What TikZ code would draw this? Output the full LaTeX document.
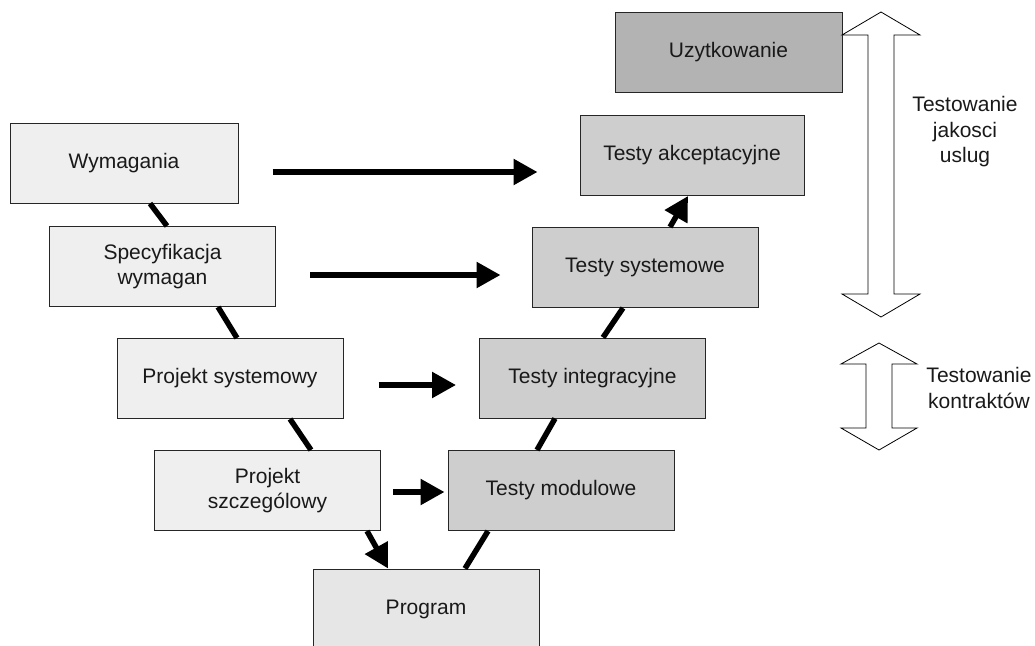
\documentclass[tikz,border=0pt]{standalone}
\usepackage{fontspec}
\setmainfont{Liberation Sans}
\usetikzlibrary{arrows.meta,calc}
\definecolor{leftfill}{HTML}{EFEFEF}
\definecolor{progfill}{HTML}{E6E6E6}
\definecolor{testfill}{HTML}{CECECE}
\definecolor{usefill}{HTML}{B3B3B3}
\tikzset{
  box/.style={draw=black!85, line width=1pt, minimum width=226pt, minimum height=80pt,
    inner sep=0pt, align=center, text=black!90},
  leftbox/.style={box, fill=leftfill},
  progbox/.style={box, fill=progfill},
  testbox/.style={box, fill=testfill},
  usebox/.style={box, fill=usefill},
  vline/.style={line width=5.5pt, black},
  varrow/.style={line width=5.5pt, black, -{Triangle[length=24pt,width=25pt]}},
  harrow/.style={line width=5.5pt, black, -{Triangle[length=24pt,width=25pt]}},
  bigarrow/.style={draw=black, line width=0.8pt, fill=white, line join=miter},
  lab/.style={align=center, text=black!90, inner sep=0pt}
}
\begin{document}
\begin{tikzpicture}[x=1pt,y=-1pt, font=\fontsize{21}{25.5}\selectfont]
\useasboundingbox (0,0) rectangle (1035,645);

% left branch
\node[leftbox, minimum width=228pt] (wym)  at (124,163)   {Wymagania};
\node[leftbox] (spec) at (162.5,266.5) {Specyfikacja\\wymagan};
\node[leftbox] (psys) at (230,378.5)   {Projekt systemowy};
\node[leftbox] (psz)  at (267.5,490.5) {Projekt\\szczególowy};
\node[progbox] (prog) at (426,609)     {Program};

% right branch
\node[testbox] (mod) at (561,490.5)  {Testy modulowe};
\node[testbox] (int) at (592.5,378)  {Testy integracyjne};
\node[testbox] (sys) at (645,267.5)  {Testy systemowe};
\node[testbox, minimum width=224pt] (akc) at (692,155.5) {Testy akceptacyjne};
\node[usebox, minimum width=227pt]  (uzy) at (728.5,52)  {Uzytkowanie};

% V connectors
\draw[vline] ([xshift=26pt]wym.south) -- ([xshift=4.5pt]spec.north);
\draw[vline] ([xshift=55.5pt]spec.south) -- ([xshift=7pt]psys.north);
\draw[vline] ([xshift=60pt]psys.south) -- ([xshift=43.5pt]psz.north);
\draw[varrow] ([xshift=99.5pt]psz.south) -- ([xshift=-38pt]prog.north);
\draw[vline] ([xshift=39pt]prog.north) -- ([xshift=-73pt]mod.south);
\draw[vline] ([xshift=-24pt]mod.north) -- ([xshift=-37.5pt]int.south);
\draw[vline] ([xshift=10.5pt]int.north) -- ([xshift=-22pt]sys.south);
\draw[varrow] ([xshift=25pt]sys.north) -- ([xshift=-4pt]akc.south);

% horizontal arrows
\draw[harrow] ($(wym.east)+(34,9)$) -- ($(akc.west)+(-42,16.5)$);
\draw[harrow] ($(spec.east)+(34,8.5)$) -- ($(sys.west)+(-31,7.5)$);
\draw[harrow] ($(psys.east)+(35,6.5)$) -- ($(int.west)+(-23,7)$);
\draw[harrow] ($(psz.east)+(12,1.5)$) -- ($(mod.west)+(-3,1.5)$);

% double arrows
\draw[bigarrow] (881,12) -- (920,35) -- (894,35) -- (894,294) -- (920,294) -- (881,317)
  -- (842,294) -- (868,294) -- (868,35) -- (842,35) -- cycle;
\draw[bigarrow] (879,343) -- (917,364) -- (892,364) -- (892,428) -- (917,428) -- (879,450)
  -- (841,428) -- (866,428) -- (866,364) -- (841,364) -- cycle;

\node[lab] (lab1) at (965,132) {Testowanie\\jakosci\\uslug};
\node[lab] (lab2) at (979,388) {Testowanie\\kontraktów};
\end{tikzpicture}
\end{document}
